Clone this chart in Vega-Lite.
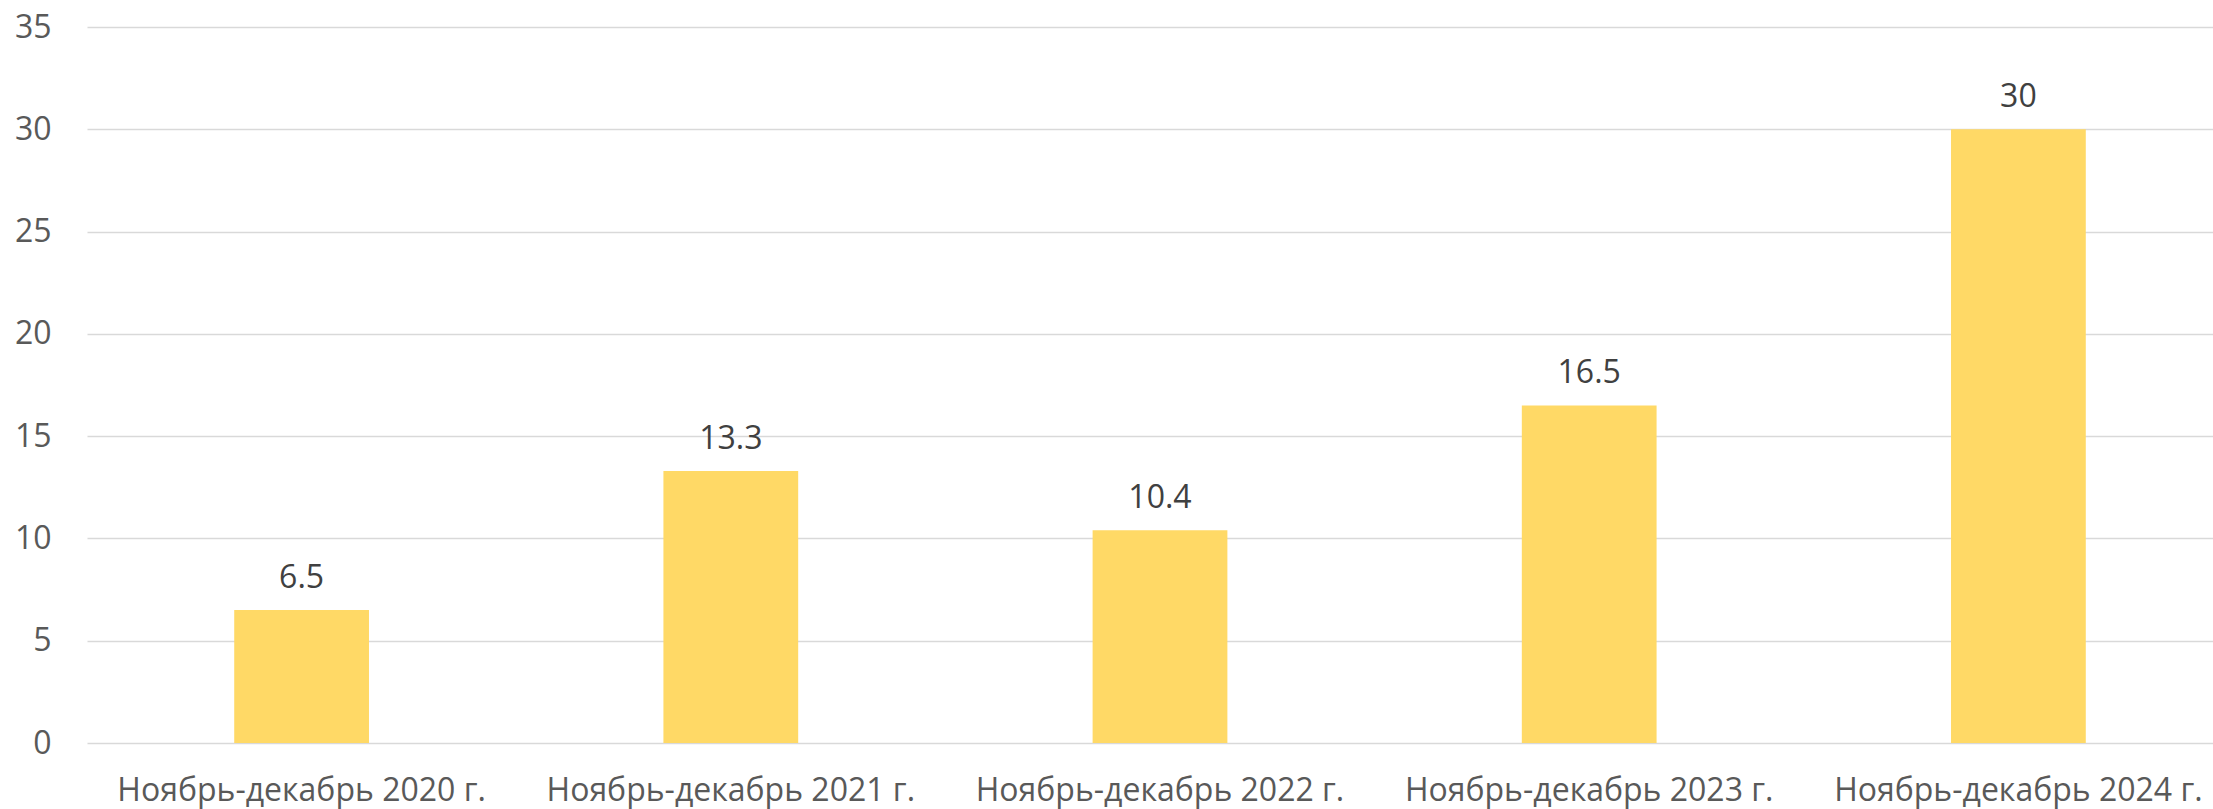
{
  "$schema": "https://vega.github.io/schema/vega-lite/v6.json",
  "autosize": "none",
  "padding": {"left": 87, "top": 27, "right": 0, "bottom": 66},
  "width": 2146,
  "height": 716,
  "background": "white",
  "config": {
    "view": {"stroke": null},
    "font": "Open Sans"
  },
  "data": {
    "values": [
      {"period": "Ноябрь-декабрь 2020 г.", "value": 6.5},
      {"period": "Ноябрь-декабрь 2021 г.", "value": 13.3},
      {"period": "Ноябрь-декабрь 2022 г.", "value": 10.4},
      {"period": "Ноябрь-декабрь 2023 г.", "value": 16.5},
      {"period": "Ноябрь-декабрь 2024 г.", "value": 30}
    ]
  },
  "encoding": {
    "x": {
      "field": "period",
      "type": "nominal",
      "sort": null,
      "scale": {"paddingInner": 0.686, "paddingOuter": 0.343},
      "axis": {
        "title": null,
        "labelAngle": 0,
        "domain": false,
        "ticks": false,
        "labelFont": "Open Sans",
        "labelFontSize": 32,
        "labelColor": "#595959",
        "labelBaseline": "alphabetic",
        "labelPadding": 57,
        "labelLimit": 0
      }
    },
    "y": {
      "field": "value",
      "type": "quantitative",
      "scale": {"domain": [0, 35], "nice": false},
      "axis": {
        "title": null,
        "values": [0, 5, 10, 15, 20, 25, 30, 35],
        "domain": false,
        "ticks": false,
        "grid": true,
        "gridColor": "#d9d9d9",
        "gridWidth": 1.5,
        "labelFont": "Open Sans",
        "labelFontSize": 32,
        "labelColor": "#595959",
        "labelPadding": 36
      }
    }
  },
  "layer": [
    {
      "mark": {"type": "bar", "color": "#ffd966"}
    },
    {
      "mark": {
        "type": "text",
        "baseline": "alphabetic",
        "dy": -22,
        "font": "Open Sans",
        "fontSize": 32,
        "color": "#404040"
      },
      "encoding": {"text": {"field": "value", "type": "quantitative"}}
    }
  ]
}
